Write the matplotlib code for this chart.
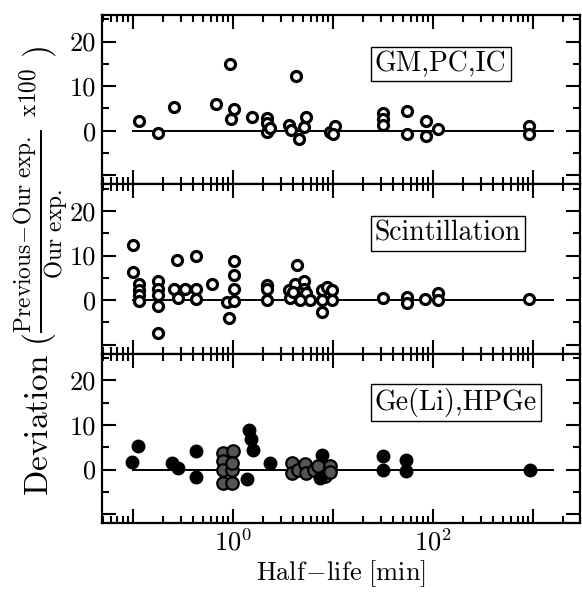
import matplotlib
matplotlib.use("Agg")
import matplotlib.pyplot as plt
from matplotlib.ticker import FixedLocator, LogLocator, NullFormatter

plt.rcParams['mathtext.fontset'] = 'cm'
plt.rcParams['font.family'] = ['cmr10', 'DejaVu Serif']
plt.rcParams['axes.formatter.use_mathtext'] = True

# GM,PC,IC
gm_x = [0.115, 0.18, 0.255, 0.68, 0.93, 1.02, 0.96, 1.56, 2.2, 2.2, 2.2, 2.33, 3.6, 3.8,
        4.3, 4.6, 5.1, 5.4, 9.4, 10.4, 10.0, 32, 32, 32, 55, 55, 84.5, 84.5, 112, 910, 910]
gm_y = [2.3, -0.4, 5.3, 6.0, 14.9, 4.8, 2.6, 3.2, 2.9, 1.7, -0.2, 0.6, 1.4, 0.2,
        12.2, -1.8, 0.8, 3.0, -0.2, 1.0, -0.8, 4.0, 2.7, 1.2, 4.5, -0.7, 2.3, -1.1, 0.5, 1.0, -0.8]

# Scintillation
sc_x = [0.1, 0.1, 0.115, 0.115, 0.115, 0.115, 0.18, 0.18, 0.18, 0.18, 0.18,
        0.275, 0.255, 0.28, 0.33, 0.43, 0.43, 0.43, 0.62, 0.87, 0.92,
        1.02, 1.02, 1.02, 1.02, 2.17, 2.17, 2.17, 3.6, 3.7, 4.33, 4.2,
        5.1, 5.1, 4.68, 5.4, 5.9, 4.68, 4.0, 7.7, 8.7, 9.7, 7.7, 9.7, 7.7,
        32, 55, 55, 83, 112, 112, 910]
sc_y = [12.4, 6.3, 3.6, 2.2, 1.1, -0.1, 4.3, 2.6, 1.1, -1.3, -7.3,
        8.9, 2.5, 0.4, 2.5, 9.9, 2.5, 0.2, 3.6, -0.4, -4.1,
        8.7, 5.6, 2.4, -0.1, 3.3, 2.5, 0.0, 2.2, 0.4, 7.8, 3.7,
        4.4, 2.6, 1.5, 1.5, 0.0, 0.0, 1.9, 2.2, 3.0, 2.2, 0.0, 0.0, -2.6,
        0.4, 0.6, -0.7, 0.2, 1.5, 0.1, 0.2]

# Ge(Li),HPGe  (black = filled, gray = stippled)
ge_x = [0.099, 0.113, 0.244, 0.284, 0.427, 0.427, 1.46, 1.52, 1.6, 1.39, 2.34,
        7.7, 7.4, 31.6, 31.6, 54, 54, 930]
ge_y = [1.6, 5.2, 1.5, 0.4, 4.1, -1.6, 8.9, 6.8, 4.4, -2.2, 1.5,
        3.3, -1.9, 3.0, 0.0, 2.2, -0.4, -0.1]
hp_x = [0.8, 1.0, 0.8, 0.8, 0.97, 0.8, 0.97, 0.97,
        3.86, 3.86, 4.5, 5.3, 5.4, 6.4, 7.1, 8.3, 9.3, 9.3]
hp_y = [3.7, 4.1, 1.85, 0.0, 0.0, -3.0, -3.0, 1.5,
        1.5, -0.7, 0.0, 1.3, -0.7, 0.0, 0.7, -1.5, 0.7, -0.5]

labels = ['GM,PC,IC', 'Scintillation', 'Ge(Li),HPGe']

fig, axes = plt.subplots(3, 1, sharex=True, figsize=(5.82, 5.95), dpi=100)
fig.subplots_adjust(left=0.175, right=0.9966, top=0.975, bottom=0.121, hspace=0)

for ax, lab in zip(axes, labels):
    ax.plot([0.1, 1600], [0, 0], color='black', lw=1.4, zorder=1)
    ax.set_xscale('log')
    ax.set_xlim(0.049, 2950)
    ax.set_ylim(-12, 26)
    ax.yaxis.set_major_locator(FixedLocator([-10, 0, 10, 20]))
    ax.yaxis.set_minor_locator(FixedLocator([-5, 5, 15, 25]))
    ax.set_yticklabels(['', '0', '10', '20'])
    ax.xaxis.set_major_locator(FixedLocator([0.1, 1, 10, 100, 1000]))
    ax.xaxis.set_minor_locator(LogLocator(base=10, subs=range(2, 10), numticks=20))
    ax.xaxis.set_minor_formatter(NullFormatter())
    ax.tick_params(which='both', direction='in', top=True, right=True, width=1.5,
                   labelsize=19, pad=4)
    ax.tick_params(which='major', length=10)
    ax.tick_params(which='minor', length=5)
    for s in ax.spines.values():
        s.set_linewidth(1.6)
    ax.text(0.571, 0.71, lab, transform=ax.transAxes, ha='left', va='center',
            fontsize=20,
            bbox=dict(boxstyle='square,pad=0.15', fc='white', ec='black', lw=1.0))

axes[0].plot(gm_x, gm_y, 'o', mfc='white', mec='black', ms=7.2, mew=2.3, zorder=3)
axes[1].plot(sc_x, sc_y, 'o', mfc='white', mec='black', ms=7.2, mew=2.3, zorder=3)
axes[2].plot(hp_x, hp_y, 'o', mfc='#555555', mec='black', ms=9, mew=1.6, zorder=3)
axes[2].plot(ge_x, ge_y, 'o', mfc='black', mec='black', ms=9, mew=1.0, zorder=4)

axes[2].set_xticklabels(['', r'$10^0$', '', r'$10^2$', ''])
axes[2].set_xlabel(r'$\mathrm{Half\!-\!life\ [min]}$', fontsize=19, labelpad=2)

fig.text(0.072, 0.545,
         r'$\mathrm{Deviation}\ (\frac{\mathrm{Previous\!-\!Our\ exp.}}{\mathrm{Our\ exp.}}\ {}^{\mathrm{x100}}\ )$',
         rotation=90, ha='center', va='center', fontsize=24)

fig.savefig('out.png', dpi=100)
